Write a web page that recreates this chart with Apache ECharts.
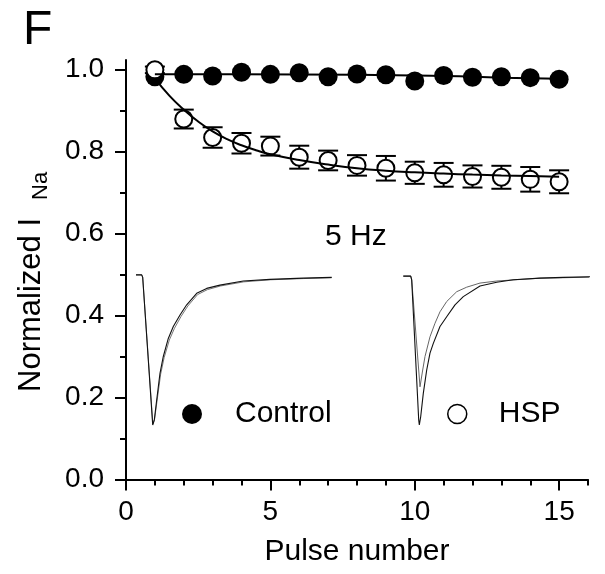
<!DOCTYPE html>
<html><head><meta charset="utf-8">
<script src="https://cdn.jsdelivr.net/npm/echarts@6/dist/echarts.min.js"></script>
<style>html,body{margin:0;padding:0;background:#fff}#c{width:605px;height:574px}</style>
</head><body><div id="c"></div>
<script>
// ---- data ----
const pulses = [1,2,3,4,5,6,7,8,9,10,11,12,13,14,15];
const controlMean = [0.982,0.988,0.984,0.993,0.988,0.992,0.982,0.989,0.987,0.972,0.985,0.981,0.982,0.980,0.976];
const hspMean = [0.999,0.879,0.834,0.820,0.813,0.786,0.778,0.766,0.759,0.748,0.743,0.739,0.737,0.732,0.726];
const hspErr  = [0.008,0.023,0.025,0.025,0.023,0.028,0.024,0.025,0.030,0.027,0.029,0.027,0.028,0.030,0.028];

const hspFitX = [1.0,1.5,2.0,2.5,3.0,3.5,4.0,4.5,5,6,7,8,9,10,11,12,13,14,15];
const hspFitY = [0.978,0.936,0.902,0.873,0.849,0.830,0.815,0.803,0.793,0.779,0.768,0.759,0.753,0.749,0.746,0.7435,0.7415,0.740,0.7385];
const controlFitX = [1,4,8,11,13,15];
const controlFitY = [0.988,0.988,0.987,0.984,0.980,0.977];

// current traces (inset), in axis units
const ctrlTraceX = [0.346,0.544,0.578,0.925,0.945,0.980,1.063,1.177,1.292,1.465,1.638,1.870,2.102,2.448,2.795,3.255,4.062,4.987,6.140,7.124];
const ctrlTraceY = [0.499,0.499,0.493,0.133,0.129,0.145,0.194,0.259,0.300,0.344,0.373,0.401,0.426,0.454,0.466,0.474,0.484,0.488,0.491,0.493];
const ctrlTrace2X = [0.346,0.544,0.578,0.930,0.950,0.990,1.080,1.200,1.320,1.500,1.680,1.910,2.140,2.480,2.820,3.280,4.080,5.000,6.140,7.124];
const ctrlTrace2Y = [0.499,0.499,0.493,0.135,0.131,0.147,0.194,0.257,0.297,0.340,0.369,0.398,0.423,0.451,0.463,0.472,0.482,0.487,0.490,0.492];
const hspTraceAX = [9.603,9.860,9.894,10.137,10.158,10.206,10.296,10.414,10.528,10.643,10.874,11.106,11.394,11.681,12.260,12.838,13.413,14.338,15.145,16.357];
const hspTraceAY = [0.496,0.496,0.487,0.145,0.133,0.153,0.210,0.267,0.308,0.332,0.373,0.397,0.426,0.446,0.472,0.481,0.487,0.491,0.493,0.495];
const hspTraceBX = [9.603,9.860,9.894,10.182,10.275,10.355,10.528,10.701,10.874,11.106,11.453,11.799,12.260,12.838,14.338,15.145,16.357];
const hspTraceBY = [0.496,0.496,0.487,0.226,0.267,0.300,0.348,0.381,0.409,0.434,0.458,0.469,0.479,0.484,0.491,0.492,0.494];

const xTickValues = [0,5,10,15];
const xMinorTickValues = [1,2,3,4,6,7,8,9,11,12,13,14,16];
const yTickValues = [0,0.2,0.4,0.6,0.8,1.0];
const yMinorTickValues = [0.1,0.3,0.5,0.7,0.9];

// ---- chart ----
const FF = '"Liberation Sans", Arial, sans-serif';
const zip = (xs, ys) => xs.map((x, i) => [x, ys[i]]);
const black = '#000';

const chart = echarts.init(document.getElementById('c'), null, {renderer: 'canvas'});
const axisX = (extra) => Object.assign({
  type: 'value', min: 0, max: 16, position: 'bottom',
  axisLine: {onZero: false, show: false},
  splitLine: {show: false}, axisLabel: {show: false}, axisTick: {show: false}
}, extra);
const axisY = (extra) => Object.assign({
  type: 'value', min: 0, max: 1.023, position: 'left',
  axisLine: {onZero: false, show: false},
  splitLine: {show: false}, axisLabel: {show: false}, axisTick: {show: false}
}, extra);

chart.setOption({
  animation: false,
  backgroundColor: '#fff',
  textStyle: {fontFamily: FF},
  grid: {left: 126, top: 60, right: 17, bottom: 94.5, containLabel: false},
  title: [
    {text: 'F', left: 18, top: 2, textStyle: {fontSize: 48, fontWeight: 'normal', color: black, fontFamily: FF}},
    {text: '5 Hz', left: 320, top: 217, textStyle: {fontSize: 30, fontWeight: 'normal', color: black, fontFamily: FF}}
  ],
  xAxis: [
    axisX({
      axisLine: {show: true, onZero: false, lineStyle: {color: black, width: 2}},
      axisTick: {show: true, customValues: xTickValues, length: 11, lineStyle: {color: black, width: 2}},
      axisLabel: {show: true, customValues: xTickValues, fontSize: 28, color: black, margin: 19, fontFamily: FF},
      name: 'Pulse number', nameLocation: 'middle', nameGap: 57,
      nameTextStyle: {fontSize: 30, color: black, fontFamily: FF}
    }),
    axisX({axisTick: {show: true, customValues: xMinorTickValues, length: 6, lineStyle: {color: black, width: 2}}})
  ],
  yAxis: [
    axisY({
      interval: 0.2,
      axisLine: {show: true, onZero: false, lineStyle: {color: black, width: 2}},
      axisTick: {show: true, customValues: yTickValues, length: 11, lineStyle: {color: black, width: 2}},
      axisLabel: {show: true, customValues: yTickValues, fontSize: 28, color: black, margin: 22, fontFamily: FF,
                  formatter: v => v.toFixed(1)}
    }),
    axisY({axisTick: {show: true, customValues: yMinorTickValues, length: 6, lineStyle: {color: black, width: 2}}})
  ],
  graphic: [{
    type: 'group', x: 31, y: 392, rotation: Math.PI / 2,
    children: [
      {type: 'text', x: 0, y: 0, style: {text: 'Normalized I', fontSize: 31, fontFamily: FF, fill: black, align: 'left', verticalAlign: 'middle'}},
      {type: 'text', x: 192, y: 10, style: {text: 'Na', fontSize: 22, fontFamily: FF, fill: black, align: 'left', verticalAlign: 'middle'}}
    ]
  }],
  legend: [
    {data: [{name: 'Control', icon: 'circle'}], left: 177, top: 394, itemWidth: 20, itemHeight: 20, selectedMode: false,
     textStyle: {fontSize: 30, color: black, fontFamily: FF, padding: [0, 0, 0, 28]}},
    {data: [{name: 'HSP', icon: 'circle', itemStyle: {color: '#fff', borderColor: black, borderWidth: 1.5}}],
     left: 442, top: 394, itemWidth: 19, itemHeight: 19, selectedMode: false,
     textStyle: {fontSize: 30, color: black, fontFamily: FF, padding: [0, 0, 0, 27]}}
  ],
  series: [
    {type: 'line', data: zip(ctrlTrace2X, ctrlTrace2Y), showSymbol: false, symbol: 'none', clip: false, z: 1,
     lineStyle: {color: '#777', width: 1}, silent: true},
    {type: 'line', data: zip(ctrlTraceX, ctrlTraceY), showSymbol: false, symbol: 'none', clip: false, z: 1,
     lineStyle: {color: '#111', width: 1.1}, silent: true},
    {type: 'line', data: zip(hspTraceBX, hspTraceBY), showSymbol: false, symbol: 'none', clip: false, z: 1,
     lineStyle: {color: '#666', width: 1}, silent: true},
    {type: 'line', data: zip(hspTraceAX, hspTraceAY), showSymbol: false, symbol: 'none', clip: false, z: 1,
     lineStyle: {color: '#111', width: 1.1}, silent: true},
    {name: 'Control', type: 'scatter', data: zip(pulses, controlMean), symbol: 'circle', symbolSize: 19, z: 2,
     itemStyle: {color: black, opacity: 1}},
    {type: 'custom', z: 3, silent: true,
     data: pulses.map((p, i) => [p, hspMean[i] - hspErr[i], hspMean[i] + hspErr[i]]),
     renderItem: (params, api) => {
       const x = api.value(0);
       const lo = api.coord([x, api.value(1)]);
       const hi = api.coord([x, api.value(2)]);
       const hw = 10;
       const st = {stroke: black, lineWidth: 2};
       return {type: 'group', children: [
         {type: 'line', shape: {x1: lo[0], y1: lo[1], x2: hi[0], y2: hi[1]}, style: st},
         {type: 'line', shape: {x1: lo[0] - hw, y1: lo[1], x2: lo[0] + hw, y2: lo[1]}, style: st},
         {type: 'line', shape: {x1: hi[0] - hw, y1: hi[1], x2: hi[0] + hw, y2: hi[1]}, style: st}
       ]};
     }},
    {name: 'HSP', type: 'scatter', data: zip(pulses, hspMean), symbol: 'circle', symbolSize: 17, z: 4,
     itemStyle: {color: '#fff', borderColor: black, borderWidth: 2, opacity: 1}},
    {type: 'line', data: zip(controlFitX, controlFitY), smooth: true, showSymbol: false, symbol: 'none', z: 5,
     lineStyle: {color: black, width: 2}, silent: true},
    {type: 'line', data: zip(hspFitX, hspFitY), smooth: true, showSymbol: false, symbol: 'none', z: 5,
     lineStyle: {color: black, width: 2}, silent: true}
  ]
});
</script>
</body></html>
